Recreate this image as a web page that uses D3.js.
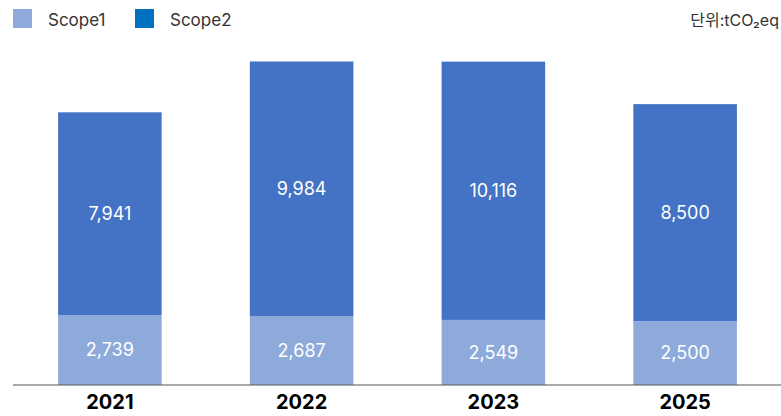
<!DOCTYPE html>
<html>
<head>
<meta charset="utf-8">
<script src="https://cdn.jsdelivr.net/npm/d3@7"></script>
<style>
  body { margin: 0; background: #fff; }
  svg { display: block; font-family: Inter, "Noto Sans CJK KR", sans-serif; }
</style>
</head>
<body>
<svg id="chart" width="781" height="416"></svg>
<script>
var years = ['2021', '2022', '2023', '2025'];
var scope1 = [2739, 2687, 2549, 2500];
var scope2 = [7941, 9984, 10116, 8500];
var seriesNames = ['Scope1', 'Scope2'];
var unitLabel = '단위:tCO₂eq';

var width = 781, height = 416;
var baseY = 385;

var svg = d3.select('#chart');

var x = d3.scaleBand()
  .domain(years)
  .range([14, 781])
  .paddingInner(0.46)
  .paddingOuter(0.23);

var y = d3.scaleLinear()
  .domain([0, 15000])
  .range([baseY, 2]);

var barColors = ['#8eaadb', '#4472c4'];
var legendColors = ['#8eaadb', '#0070c0'];

var rows = years.map(function(yr, i) {
  return { year: yr, Scope1: scope1[i], Scope2: scope2[i] };
});

var stack = d3.stack().keys(seriesNames)(rows);

var groups = svg.selectAll('g.series')
  .data(stack)
  .enter()
  .append('g')
  .attr('class', 'series')
  .attr('fill', function(d, i) { return barColors[i]; });

groups.selectAll('rect')
  .data(function(d) { return d; })
  .enter()
  .append('rect')
  .attr('x', function(d) { return x(d.data.year); })
  .attr('width', x.bandwidth())
  .attr('y', function(d) { return y(d[1]); })
  .attr('height', function(d) { return y(d[0]) - y(d[1]); });

groups.selectAll('text')
  .data(function(d) { return d; })
  .enter()
  .append('text')
  .attr('x', function(d) { return x(d.data.year) + x.bandwidth() / 2; })
  .attr('y', function(d) { return (y(d[0]) + y(d[1])) / 2; })
  .attr('dy', '0.35em')
  .attr('text-anchor', 'middle')
  .attr('fill', '#fff')
  .style('font-size', '18px')
  .text(function(d) { return d3.format(',')(d[1] - d[0]); });

// baseline axis
var xAxis = d3.axisBottom(x).tickSize(0).tickPadding(10);
var axisG = svg.append('g')
  .attr('transform', 'translate(0,' + baseY + ')')
  .call(xAxis);
axisG.select('.domain').remove();
axisG.append('line')
  .attr('x1', 13).attr('x2', 781)
  .attr('stroke', '#555').attr('stroke-width', 1.2);
axisG.selectAll('.tick text')
  .attr('fill', '#000')
  .style('font-size', '20px')
  .style('font-weight', 'bold')
  .style('font-family', 'Inter, "Noto Sans CJK KR", sans-serif');

// legend
var legendX = [13, 135];
var legend = svg.selectAll('g.legend')
  .data(seriesNames)
  .enter()
  .append('g')
  .attr('class', 'legend')
  .attr('transform', function(d, i) { return 'translate(' + legendX[i] + ',9)'; });

legend.append('rect')
  .attr('width', 19).attr('height', 19)
  .attr('fill', function(d, i) { return legendColors[i]; });

legend.append('text')
  .attr('x', 35).attr('y', 17)
  .attr('fill', '#333')
  .style('font-size', '17px')
  .text(function(d) { return d; });

svg.append('text')
  .attr('x', 779).attr('y', 26)
  .attr('text-anchor', 'end')
  .attr('fill', '#333')
  .style('font-size', '16px')
  .text(unitLabel);
</script>
</body>
</html>
